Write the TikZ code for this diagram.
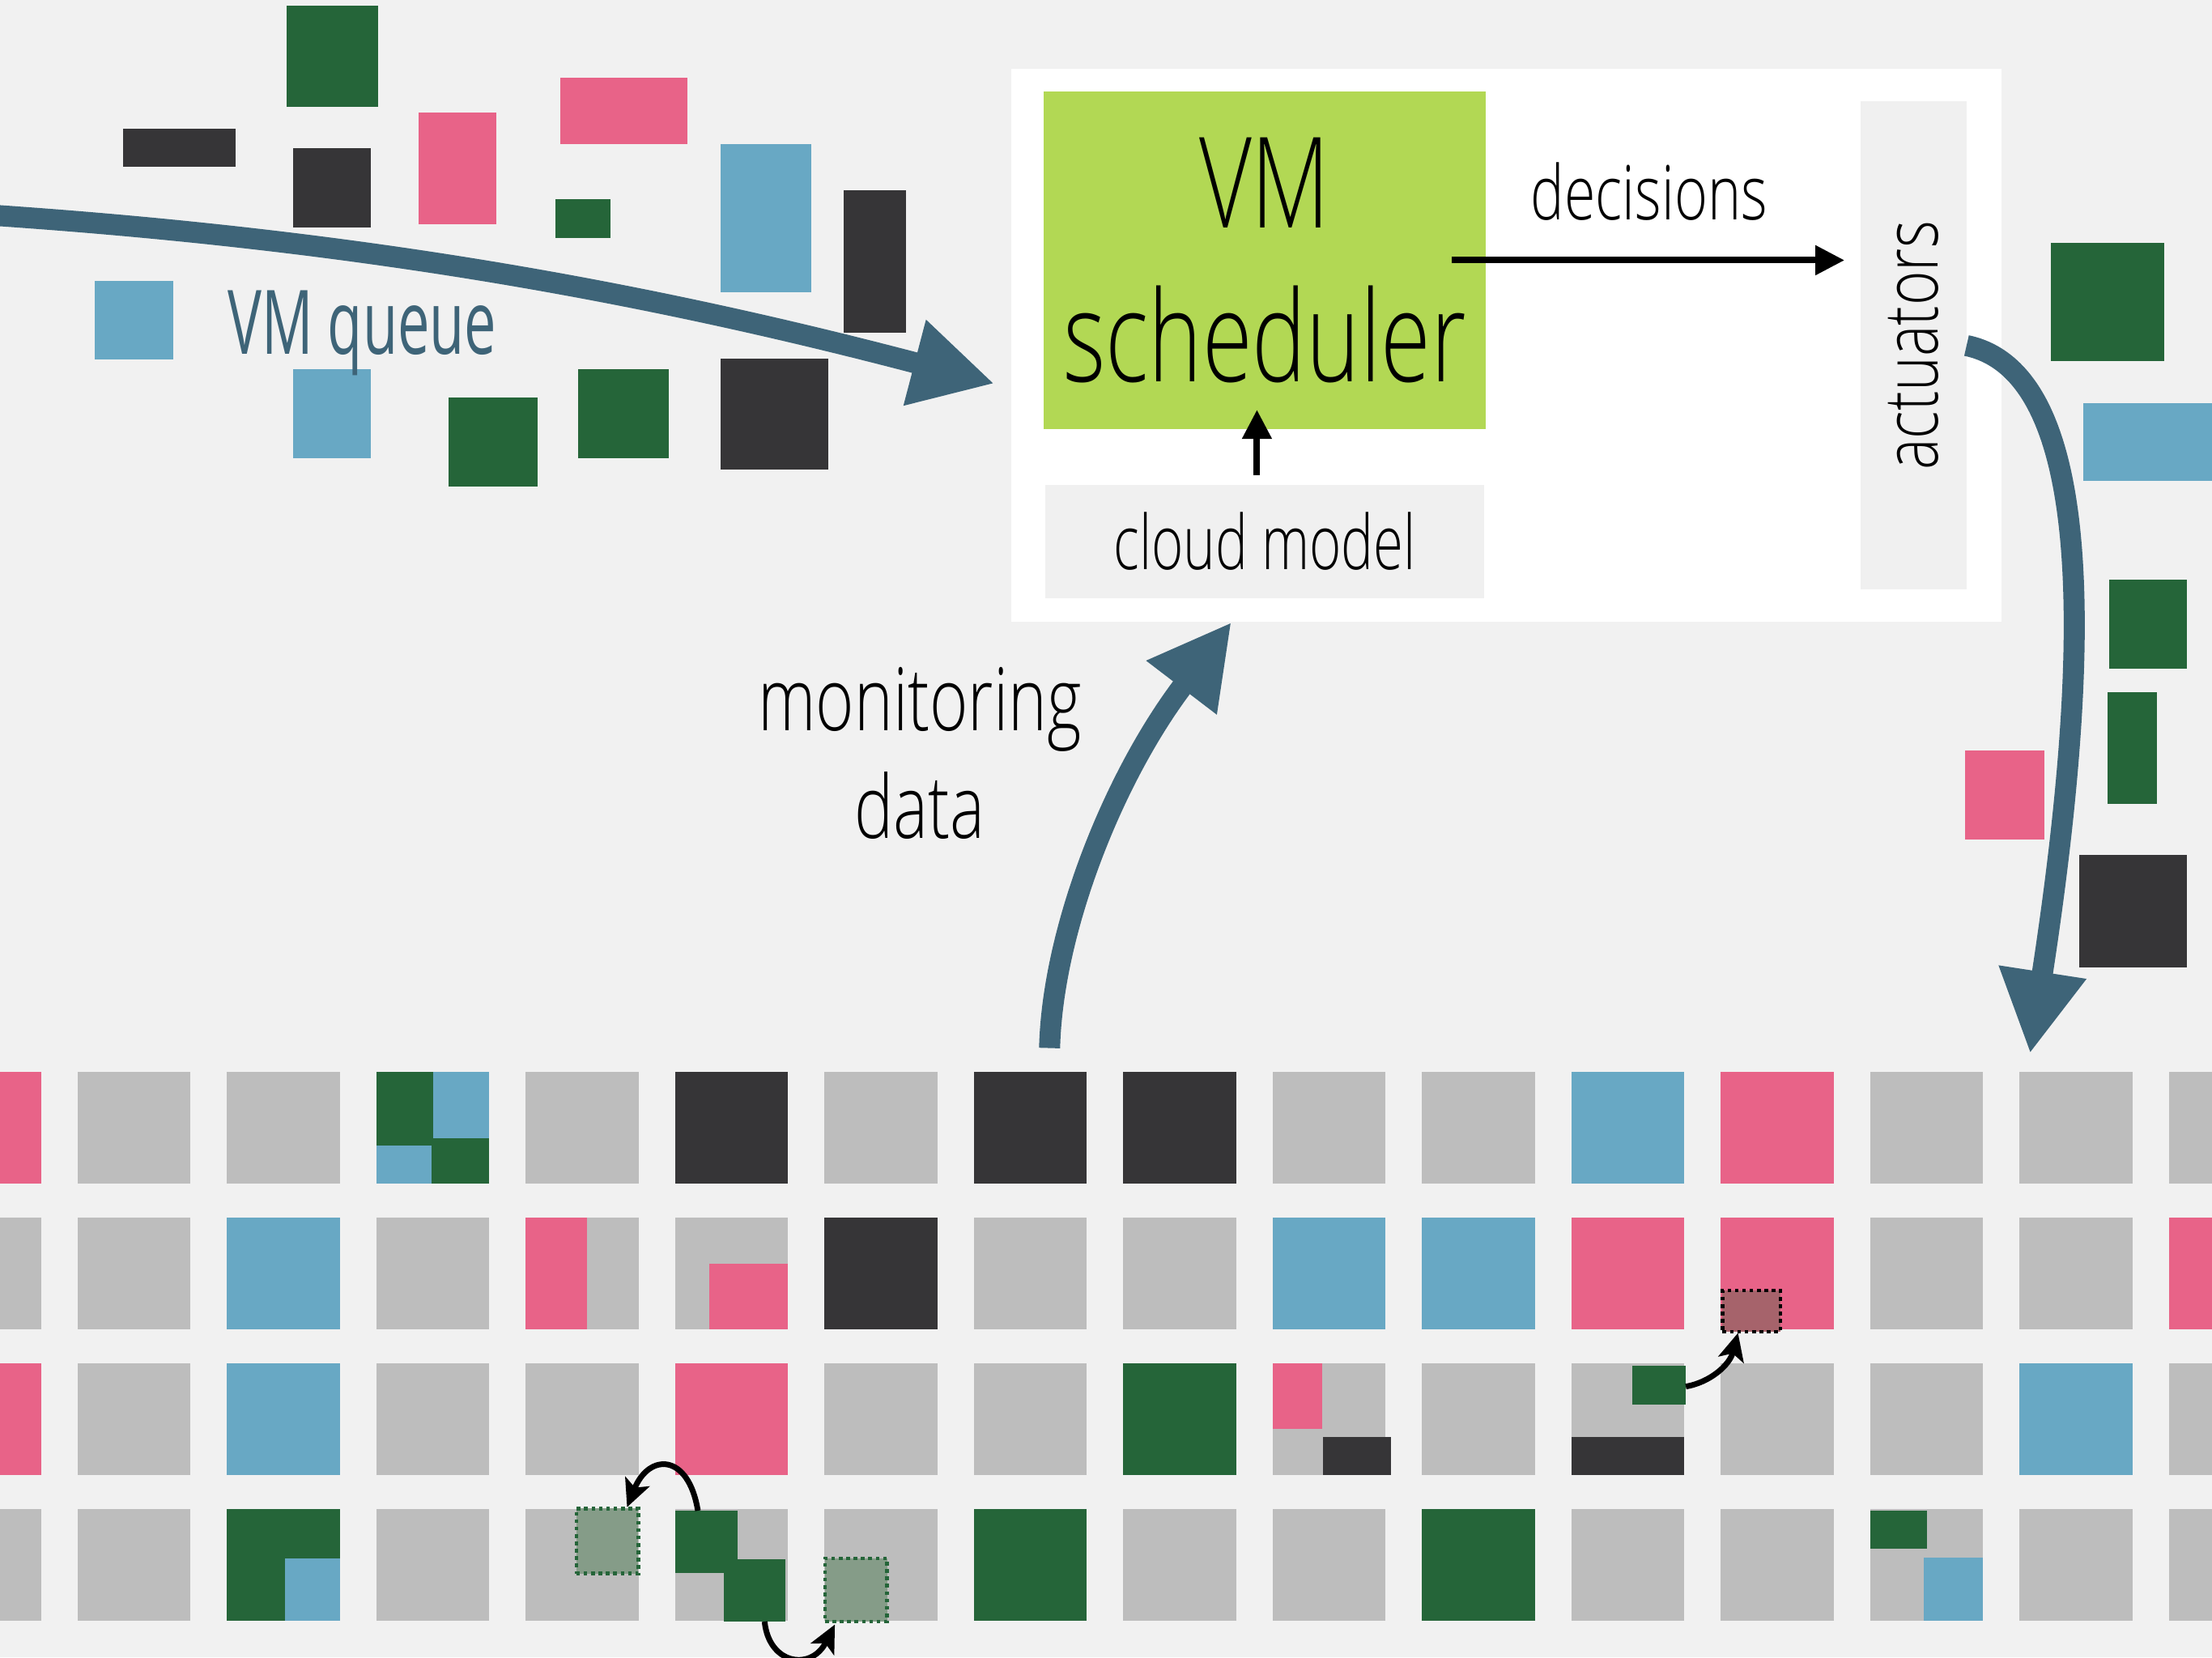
\documentclass[tikz,border=0pt]{standalone}
\usepackage{fontspec}
\newfontfamily\slimfont{Open Sans Light}[FakeStretch=0.72]
\newfontfamily\widefont{Open Sans Light}[FakeStretch=0.75]
\newfontfamily\actfont{Open Sans Light}[FakeStretch=0.78]
\newfontfamily\queuefont{Open Sans}[FakeStretch=0.64]
\usetikzlibrary{positioning,calc,arrows.meta}

\definecolor{bgcol}{HTML}{F1F1F1}
\definecolor{boxcol}{HTML}{F0F0F0}
\definecolor{schedcol}{HTML}{B2D854}
\definecolor{flowcol}{HTML}{3E6478}
\definecolor{vmP}{HTML}{E86388}
\definecolor{vmB}{HTML}{68A8C4}
\definecolor{vmK}{HTML}{363537}
\definecolor{vmG}{HTML}{256539}
\definecolor{vmO}{HTML}{BDBDBD}
\definecolor{ghostG}{HTML}{859C88}
\definecolor{ghostP}{HTML}{A6636B}

\newlength\px
\setlength\px{0.017423cm}

\tikzset{
	flow/.style={draw=flowcol,line width=0.26cm,-{Triangle[length=1.02cm,width=1.02cm]}},
	cmd/.style={draw=black,line width=0.08cm,-{Triangle[length=0.36cm,width=0.35cm]}},
	move/.style={draw=black,line width=0.07cm,-{Stealth[length=0.34cm,width=0.32cm,inset=0.08cm]}},
	corner/.style={inner sep=0,outer sep=0,anchor=north west},
	ghost/.style={corner,line width=1.2pt,dash pattern=on 1.3pt off 1.3pt},
}

\begin{document}
\begin{tikzpicture}[x=0.017423cm,y=-0.01743cm]
		\useasboundingbox (0,0) rectangle (1568,1175);
		\fill[bgcol] (0,0) rectangle (1568,1175);
		\clip (0,0) rectangle (1568,1175);
		
		% waiting VMs
		\foreach \col/\xa/\ya/\xb/\yb in {vmG/203/4/268/76, vmK/87/91/167/118, vmK/208/105/263/161, vmP/297/80/352/159, vmP/397/55/487/102, vmG/394/141/433/169, vmB/511/102/575/207, vmK/598/135/642/236, vmB/67/199/123/255, vmB/208/262/263/325, vmG/318/282/381/345, vmG/410/262/474/325, vmK/511/254/587/333, vmG/1454/172/1534/256, vmB/1477/286/1568/341, vmG/1495/411/1550/474, vmG/1494/491/1529/570, vmP/1393/532/1449/595, vmK/1474/606/1550/686}
			\fill[fill=\col] (\xa,\ya) rectangle (\xb,\yb);
		
		% hosts
		\foreach \row [count=\r from 0] in {{P,O,O,G,O,K,O,K,K,O,O,B,P,O,O,O},{O,O,B,O,O,O,K,O,O,B,B,P,P,O,O,P},{P,O,B,O,O,P,O,O,G,O,O,O,O,O,B,O},{O,O,G,O,O,O,O,G,O,O,G,O,O,O,O,O}}
			\foreach \cl [count=\i from 0] in \row
				\fill[fill=vm\cl] ({-51+105.9*\i},{760+103.3*\r}) rectangle +(80,79);
		
		\fill[vmB] (307,760) rectangle (346.7,807);
		\fill[vmB] (266.7,812) rectangle (306,839);
		\fill[vmP] (372.6,863.3) rectangle (416,942.3);
		\fill[vmP] (503,896) rectangle (558.5,942.3);
		\fill[vmP] (902.1,966.6) rectangle (937,1013);
		\fill[vmK] (938,1019) rectangle (986,1045.6);
		\fill[vmK] (1113.9,1019) rectangle (1193.9,1045.6);
		\fill[vmB] (202,1105) rectangle (240.8,1148.9);
		\fill[vmG] (1326,1071) rectangle (1366,1098);
		\fill[vmB] (1363.4,1104) rectangle (1405.6,1148.9);
		
		\node[corner,fill=vmG,minimum width=44\px,minimum height=44\px] (vma) at (478.7,1071) {};
		\node[corner,fill=vmG,minimum width=44\px,minimum height=44\px] (vmb) at (513,1105.6) {};
		\node[corner,fill=vmG,minimum width=38\px,minimum height=28\px] (vmc) at (1157,968) {};
		\node[ghost,fill=ghostG,draw=vmG,minimum width=44\px,minimum height=46\px] (ghosta) at (408.5,1069.5) {};
		\node[ghost,fill=ghostG,draw=vmG,minimum width=44\px,minimum height=45\px] (ghostb) at (584.8,1104.7) {};
		\node[ghost,fill=ghostP,draw=black,minimum width=41\px,minimum height=29\px] (ghostc) at (1221,915) {};
		
		\draw[move] ($(vma.north)+(-6,0)$) .. controls (488,1030) and (460,1030) .. ($(ghosta.north east)+(-8,-1)$);
		\draw[move] ($(vmb.south)+(7,0)$) .. controls (545,1180) and (575,1185) .. ($(ghostb.south west)+(7,2)$);
		\draw[move] ($(vmc.east)+(0,1)$) .. controls (1212,980) and (1226,968) .. ($(ghostc.south)+(-9.5,1)$);
		
		% scheduler
		\node[corner,fill=white,minimum width=702\px,minimum height=392\px] (panel) at (717,49) {};
		\node[corner,fill=schedcol,minimum width=313\px,minimum height=239\px,align=center,font=\fontsize{44.4}{54}\slimfont] (sched) at (740,65) {VM\\scheduler};
		\node[corner,fill=boxcol,minimum width=311\px,minimum height=80\px,font=\fontsize{26.5}{32}\slimfont] (cloud) at (741,344) {cloud model};
		\node[corner,fill=boxcol,minimum width=75\px,minimum height=346\px] (act) at (1319,72) {};
		\node[rotate=90,font=\fontsize{26.5}{32}\actfont] (actlabel) at (act.center) {actuators};
		\node[anchor=base,font=\fontsize{26.5}{32}\widefont] (declabel) at (1169,156) {decisions};
		
		\draw[cmd] ($(sched.east)+(-24,0)$) -- ($(sched.east -| act.west)+(-11.5,0)$);
		\draw[cmd] ($(cloud.north)+(-5.5,-7)$) -- ($(sched.south)+(-5.5,-13.5)$);
		
		% flows
		\node[anchor=base west,inner sep=0,text=flowcol,font=\fontsize{31.3}{36}\queuefont] (queuelabel) at (161,251) {VM queue};
		\node[align=center,font=\fontsize{30.7}{37.9}\widefont] (monlabel) at (652,534) {monitoring\\data};
		
		\coordinate (qin) at (-5,152.6);
		\coordinate (qtip) at (705,272);
		\coordinate (mon) at (744,743);
		\coordinate (montip) at (873,441);
		\coordinate (acttip) at (1439,747);
		
		\draw[flow] (qin) .. controls (250,170) and (450,205) .. (qtip);
		\draw[flow] (mon) .. controls (746,660) and (789,551) .. (montip);
		\draw[flow] (act.east) .. controls (1490,265) and (1480,480) .. (acttip);
	\end{tikzpicture}
\end{document}
